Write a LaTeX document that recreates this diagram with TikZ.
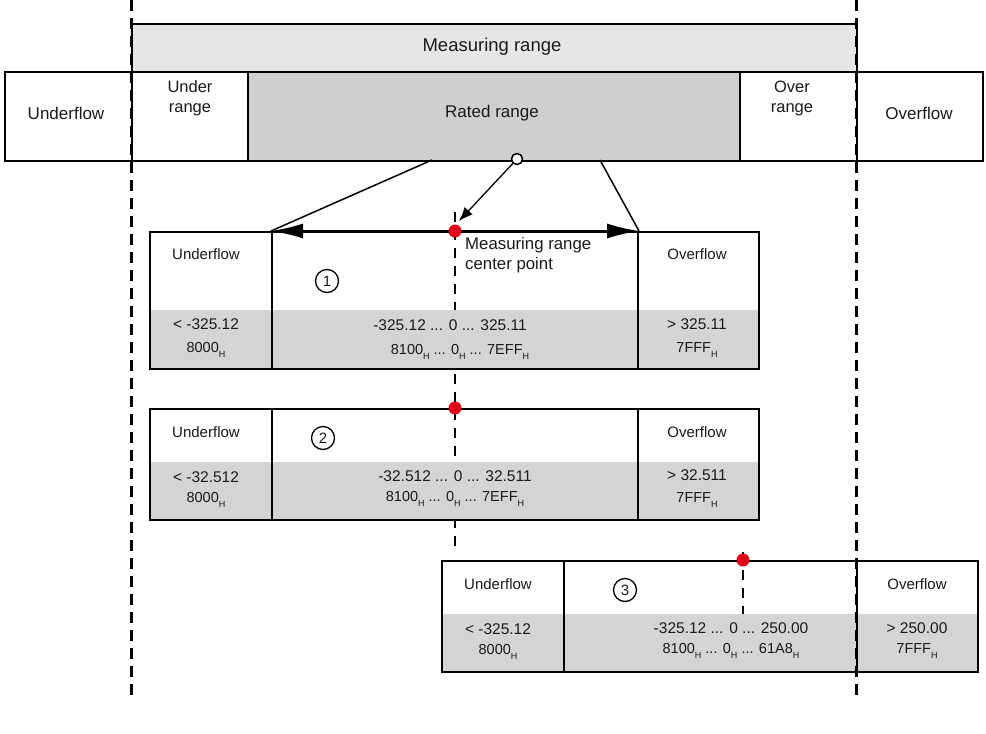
\documentclass[tikz,border=0pt]{standalone}
\usepackage{fontspec}
\setmainfont{Liberation Sans}
\usetikzlibrary{arrows.meta}
\definecolor{mrfill}{HTML}{E6E6E6}
\definecolor{ratedfill}{HTML}{CFCFCF}
\definecolor{bandfill}{HTML}{D4D4D4}
\definecolor{dotred}{HTML}{E2001A}
\definecolor{txt}{HTML}{1A1A1A}
\newcommand{\hsub}{\raisebox{-5pt}{\fontsize{9}{9}\selectfont H}}
\tikzset{
  cell/.style={draw, line width=1.5pt, inner sep=0pt, anchor=north west},
  big/.style={text=txt, font=\fontsize{17}{21}\selectfont, align=center, inner sep=0pt},
  small/.style={text=txt, font=\fontsize{15}{18}\selectfont, align=center, inner sep=0pt},
  num/.style={text=txt, font=\fontsize{15.5}{18}\selectfont, inner sep=0pt},
  hex/.style={text=txt, font=\fontsize{14.5}{17}\selectfont, inner sep=0pt},
  reddot/.style={circle, fill=dotred, minimum size=13pt, inner sep=0pt},
  circnum/.style={circle, draw, line width=1.3pt, minimum size=23pt, inner sep=0pt, text=txt, font=\fontsize{15}{15}\selectfont},
  bigdash/.style={line width=3pt, dash pattern=on 11pt off 7pt},
  middash/.style={line width=2.5pt, dash pattern=on 10pt off 8pt},
}
\begin{document}
\begin{tikzpicture}[x=1pt,y=-1pt]
\useasboundingbox (0,0) rectangle (986,734);
\fill[white] (0,0) rectangle (986,734);

% top bars
\node[cell, fill=mrfill, minimum width=725pt, minimum height=48pt] (mr) at (131,23) {};
\node[big, font=\fontsize{18.5}{22}\selectfont] (mrt) at (492,47) {Measuring range};
\node[cell, fill=white, minimum width=127pt, minimum height=89pt] (uf) at (4,71) {};
\node[cell, fill=white, minimum width=116pt, minimum height=89pt] (ur) at (131,71) {};
\node[cell, fill=ratedfill, minimum width=492pt, minimum height=89pt] (rr) at (247,71) {};
\node[cell, fill=white, minimum width=117pt, minimum height=89pt] (orr) at (739,71) {};
\node[cell, fill=white, minimum width=126pt, minimum height=89pt] (of) at (856,71) {};
\node[big] (uft) at (66,113) {Underflow};
\node[big, font=\fontsize{16.5}{20}\selectfont] (urt) at (190,98) {Under\\range};
\node[big] (rrt) at (492,113) {Rated range};
\node[big, font=\fontsize{16.5}{20}\selectfont] (ort) at (792,98) {Over\\range};
\node[big] (oft) at (919,113) {Overflow};

% center dashed lines (behind the boxes' grey bands)
\coordinate (cl1) at (455,212);
\coordinate (cl2) at (455,546);
\draw[middash] (cl1) -- (cl2);
\coordinate (cl3) at (743,552);
\coordinate (cl4) at (743,616);
\draw[middash] (cl3) -- (cl4);

% box 1
\fill[bandfill] (149,310) rectangle (758,368);
\node[cell, minimum width=122pt, minimum height=137pt] (u1) at (149,231) {};
\node[cell, minimum width=366pt, minimum height=137pt, line width=2pt] (m1) at (271,231) {};
\node[cell, minimum width=121pt, minimum height=137pt] (o1) at (637,231) {};
\node[small] (u1t) at (206,254) {Underflow};
\node[small] (o1t) at (697,254) {Overflow};
\node[num] (u1a) at (206,324) {< -325.12};
\node[hex] (u1b) at (206,350) {8000\hsub};
\node[num] (o1a) at (697,324) {> 325.11};
\node[hex] (o1b) at (697,350) {7FFF\hsub};
\node[num] (m1a) at (450,325) {-325.12 ... 0 ... 325.11};
\node[hex] (m1b) at (460,352) {8100\hsub{} ... 0\hsub{} ... 7EFF\hsub};
\node[circnum] (n1) at (327,281) {1};
\node[small, font=\fontsize{16.8}{20}\selectfont, align=left, anchor=north west] (mcp) at (465,237) {Measuring range\\center point};

% box 2
\fill[bandfill] (149,462) rectangle (758,519);
\node[cell, minimum width=122pt, minimum height=111pt] (u2) at (149,408) {};
\node[cell, minimum width=366pt, minimum height=111pt, line width=2pt] (m2) at (271,408) {};
\node[cell, minimum width=121pt, minimum height=111pt] (o2) at (637,408) {};
\node[small] (u2t) at (206,432) {Underflow};
\node[small] (o2t) at (697,432) {Overflow};
\node[num] (u2a) at (206,477) {< -32.512};
\node[hex] (u2b) at (206,500) {8000\hsub};
\node[num] (o2a) at (697,475) {> 32.511};
\node[hex] (o2b) at (697,500) {7FFF\hsub};
\node[num] (m2a) at (455,476) {-32.512 ... 0 ... 32.511};
\node[hex] (m2b) at (455,499) {8100\hsub{} ... 0\hsub{} ... 7EFF\hsub};
\node[circnum] (n2) at (323,438) {2};

% box 3
\fill[bandfill] (441,614) rectangle (977,671);
\node[cell, minimum width=122pt, minimum height=111pt] (u3) at (441,560) {};
\node[cell, minimum width=293pt, minimum height=111pt] (m3) at (563,560) {};
\node[cell, minimum width=121pt, minimum height=111pt] (o3) at (856,560) {};
\node[small] (u3t) at (498,584) {Underflow};
\node[small] (o3t) at (917,584) {Overflow};
\node[num] (u3a) at (498,629) {< -325.12};
\node[hex] (u3b) at (498,652) {8000\hsub};
\node[num] (o3a) at (917,628) {> 250.00};
\node[hex] (o3b) at (917,651) {7FFF\hsub};
\node[num] (m3a) at (731,628) {-325.12 ... 0 ... 250.00};
\node[hex] (m3b) at (731,651) {8100\hsub{} ... 0\hsub{} ... 61A8\hsub};
\node[circnum] (n3) at (625,590) {3};

% connectors from rated range
\coordinate (rl) at (432,160);
\coordinate (rrr) at (600,160);
\draw[line width=1.5pt] (rl) -- (m1.north west);
\draw[line width=1.5pt] (rrr) -- (m1.north east);
\draw[line width=2pt, {Latex[length=32pt,width=15pt]}-{Latex[length=32pt,width=15pt]}] (m1.north west) -- (m1.north east);

% pointer to center
\node[circle, draw, fill=white, line width=1.5pt, minimum size=11pt, inner sep=0pt] (oc) at (517,159) {};
\coordinate (ptr) at (459,221);
\draw[line width=1.3pt, -{Latex[length=14pt,width=11pt]}] (oc) -- (ptr);

% red dots
\node[reddot] (d1) at (455,231) {};
\node[reddot] (d2) at (455,408) {};
\node[reddot] (d3) at (743,560) {};

% outer dashed lines
\coordinate (la) at (131,0);
\coordinate (lb) at (131,700);
\coordinate (ra) at (856,0);
\coordinate (rb) at (856,700);
\draw[bigdash] (la) -- (lb);
\draw[bigdash] (ra) -- (rb);
\end{tikzpicture}
\end{document}
